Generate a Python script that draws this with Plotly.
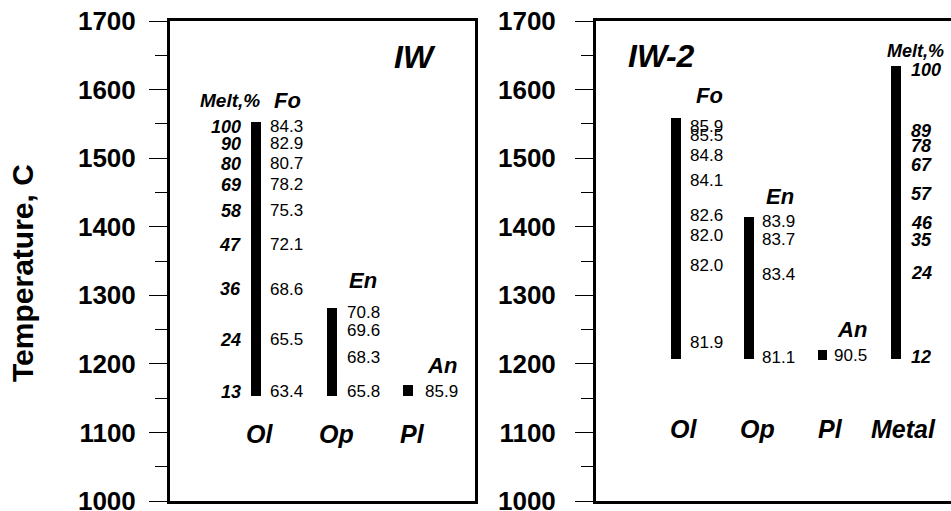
import plotly.graph_objects as go

# ---------------- Data: IW panel ----------------
iw_minerals = ["Ol", "Op", "Pl"]
iw_bar_bottom = [1153, 1153, 1153]
iw_bar_top = [1553, 1281, 1169]
iw_melt_temp = [1546, 1521, 1492, 1461, 1423, 1374, 1309, 1235, 1159]
iw_melt_pct = [100, 90, 80, 69, 58, 47, 36, 24, 13]
iw_fo = [84.3, 82.9, 80.7, 78.2, 75.3, 72.1, 68.6, 65.5, 63.4]
iw_en_temp = [1275, 1248, 1209, 1160]
iw_en = [70.8, 69.6, 68.3, 65.8]
iw_an_temp = [1160]
iw_an = [85.9]

# ---------------- Data: IW-2 panel ----------------
iw2_minerals = ["Ol", "Op", "Pl", "Metal"]
iw2_bar_bottom = [1207, 1207, 1206, 1207]
iw2_bar_top = [1558, 1414, 1220, 1635]
iw2_fo_temp = [1546, 1533, 1504, 1468, 1416, 1387, 1343, 1231]
iw2_fo = [85.9, 85.5, 84.8, 84.1, 82.6, 82.0, 82.0, 81.9]
iw2_en_temp = [1407, 1382, 1331, 1210]
iw2_en = [83.9, 83.7, 83.4, 81.1]
iw2_an_temp = [1212]
iw2_an = [90.5]
iw2_melt_temp = [1628, 1540, 1517, 1490, 1448, 1405, 1380, 1332, 1210]
iw2_melt_pct = [100, 89, 78, 67, 57, 46, 35, 24, 12]

y_ticks = [1000, 1100, 1200, 1300, 1400, 1500, 1600, 1700]

FAM = "Liberation Sans, Arial, sans-serif"
val_font = dict(family=FAM, size=17, color="black")
melt_font = dict(family=FAM, size=18, color="black", weight="bold", style="italic")
head_font = dict(family=FAM, size=22, color="black", weight="bold", style="italic")
cat_font = dict(family=FAM, size=25, color="black", weight="bold", style="italic")
title_font = dict(family=FAM, size=32, color="black", weight="bold", style="italic")

fig = go.Figure()
fig.add_trace(go.Bar(
    x=iw_minerals, y=[t - b for t, b in zip(iw_bar_top, iw_bar_bottom)],
    base=iw_bar_bottom, width=0.12, marker=dict(color="black", line=dict(width=0)),
    xaxis="x", yaxis="y", showlegend=False, hoverinfo="skip"))
fig.add_trace(go.Bar(
    x=iw2_minerals, y=[t - b for t, b in zip(iw2_bar_top, iw2_bar_bottom)],
    base=iw2_bar_bottom, width=0.13, marker=dict(color="black", line=dict(width=0)),
    xaxis="x2", yaxis="y2", showlegend=False, hoverinfo="skip"))

ann = []


def column(xr, yr, cat, temps, texts, xshift, anchor, font):
    for t, s in zip(temps, texts):
        ann.append(dict(x=cat, y=t, xref=xr, yref=yr, text=str(s), showarrow=False,
                        xanchor=anchor, yanchor="middle", xshift=xshift, font=font))


# IW panel text
column("x", "y", "Ol", iw_melt_temp, iw_melt_pct, -13, "right", melt_font)
column("x", "y", "Ol", iw_melt_temp, [f"{v:.1f}" for v in iw_fo], 12, "left", val_font)
column("x", "y", "Op", iw_en_temp, [f"{v:.1f}" for v in iw_en], 13, "left", val_font)
column("x", "y", "Pl", iw_an_temp, [f"{v:.1f}" for v in iw_an], 15, "left", val_font)
ann.append(dict(x="Ol", y=1584, xref="x", yref="y", text="Melt,%", showarrow=False,
                xanchor="right", xshift=6, font=dict(family=FAM, size=19, weight="bold", style="italic", color="black")))
ann.append(dict(x="Ol", y=1584, xref="x", yref="y", text="Fo", showarrow=False,
                xanchor="center", xshift=32, font=head_font))
ann.append(dict(x="Op", y=1321, xref="x", yref="y", text="En", showarrow=False,
                xanchor="center", xshift=31, font=head_font))
ann.append(dict(x="Pl", y=1197, xref="x", yref="y", text="An", showarrow=False,
                xanchor="center", xshift=34, font=head_font))
for c in iw_minerals:
    ann.append(dict(x=c, y=1098, xref="x", yref="y", text=c, showarrow=False,
                    xanchor="center", xshift=4, font=cat_font))
ann.append(dict(x=0.803, y=1647, xref="x domain", yref="y", text="IW", showarrow=False,
                xanchor="center", font=title_font))

# IW-2 panel text
column("x2", "y2", "Ol", iw2_fo_temp, [f"{v:.1f}" for v in iw2_fo], 12, "left", val_font)
column("x2", "y2", "Op", iw2_en_temp, [f"{v:.1f}" for v in iw2_en], 11, "left", val_font)
column("x2", "y2", "Pl", iw2_an_temp, [f"{v:.1f}" for v in iw2_an], 9, "left", val_font)
column("x2", "y2", "Metal", iw2_melt_temp, iw2_melt_pct, 13, "left", melt_font)
ann.append(dict(x="Ol", y=1591, xref="x2", yref="y2", text="Fo", showarrow=False,
                xanchor="center", xshift=34, font=head_font))
ann.append(dict(x="Op", y=1444, xref="x2", yref="y2", text="En", showarrow=False,
                xanchor="center", xshift=31, font=head_font))
ann.append(dict(x="Pl", y=1250, xref="x2", yref="y2", text="An", showarrow=False,
                xanchor="center", xshift=29, font=head_font))
ann.append(dict(x="Metal", y=1656, xref="x2", yref="y2", text="Melt,%", showarrow=False,
                xanchor="center", xshift=20, font=dict(family=FAM, size=18, weight="bold", style="italic", color="black")))
for c in iw2_minerals:
    ann.append(dict(x=c, y=1105, xref="x2", yref="y2", text=c, showarrow=False,
                    xanchor="center", xshift=8, font=cat_font))
ann.append(dict(x=0.185, y=1649, xref="x2 domain", yref="y2", text="IW-2", showarrow=False,
                xanchor="center", font=title_font))

# y-axis title
ann.append(dict(x=-0.1895, y=0.475, xref="paper", yref="paper", text="Temperature, C",
                textangle=-90, showarrow=False, xanchor="center", yanchor="middle",
                font=dict(family=FAM, size=30, weight="bold", color="black")))

yaxis_common = dict(
    range=[1000, 1700], tickvals=y_ticks, ticks="outside", ticklen=18, tickwidth=1,
    tickcolor="black", showline=True, linecolor="black", linewidth=3,
    showgrid=False, zeroline=False, fixedrange=True, ticklabeloverflow="allow",
    automargin=False,
    tickfont=dict(family=FAM, size=26, weight="bold", color="black"),
    minor=dict(dtick=50, tick0=1000, ticks="outside", ticklen=12, tickwidth=1, tickcolor="black", showgrid=False),
)
xaxis_common = dict(
    type="category", showticklabels=False, ticks="", showline=True, mirror=True,
    linecolor="black", linewidth=3, showgrid=False, zeroline=False, fixedrange=True,
    automargin=False,
)

fig.update_layout(
    width=951, height=511,
    margin=dict(l=170, r=0, t=21, b=10, autoexpand=False),
    paper_bgcolor="white", plot_bgcolor="white",
    showlegend=False, bargap=0,
    xaxis=dict(domain=[0, 0.3905], range=[-1.13, 2.88],
               categoryorder="array", categoryarray=iw_minerals, **xaxis_common),
    yaxis=dict(anchor="x", mirror=True, ticklabelstandoff=8, **yaxis_common),
    xaxis2=dict(domain=[0.5455, 1.0], range=[-1.091, 3.752],
                categoryorder="array", categoryarray=iw2_minerals, **xaxis_common),
    yaxis2=dict(anchor="x2", mirror=False, ticklabelstandoff=14, **yaxis_common),
    annotations=ann,
)

fig.write_html("out.html")
